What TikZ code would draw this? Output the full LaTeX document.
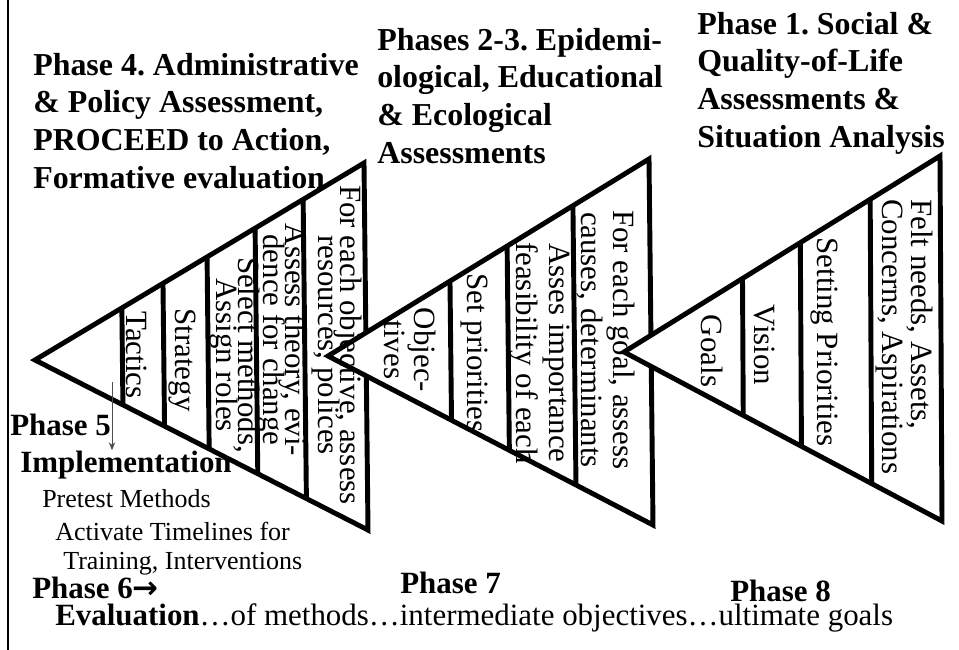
\documentclass[tikz,border=0pt]{standalone}
\usepackage{fontspec}
\setmainfont{Liberation Serif}
\newfontfamily\arrowfont{DejaVu Sans}
\frenchspacing
\usetikzlibrary{arrows.meta,calc}

\begin{document}
\begin{tikzpicture}[
      x=0.025cm, y=-0.025cm,
      tri/.style={draw, fill=white, line width=3.5pt, line join=miter},
      bar/.style={line width=3.5pt},
      head/.style={anchor=north west, align=left, inner sep=0pt, font=\bfseries\fontsize{22.7}{27}\selectfont},
      band/.style={rotate=-90, inner sep=0pt, align=center, font={\fontsize{22}{23}\selectfont\lineskiplimit-30pt}},
      tight/.style={font={\fontsize{22}{15.6}\selectfont\lineskiplimit-30pt}},
      phase/.style={anchor=base west, inner sep=0pt, font=\bfseries\fontsize{22}{26}\selectfont},
      small/.style={anchor=base west, inner sep=0pt, font=\fontsize{18.5}{22}\selectfont},
      >={Stealth[length=2mm,width=1.6mm]}
    ]
    \useasboundingbox (0,0) rectangle (959,650);
    % left frame line
    \draw[line width=1.5pt] (8,0) -- (8,650);

    % Triangle corners
    \coordinate (a1) at (35,360);  \coordinate (t1) at (364,163); \coordinate (b1) at (368,530);
    \coordinate (a2) at (328,356); \coordinate (t2) at (649,159); \coordinate (b2) at (653,525);
    \coordinate (a3) at (624,352); \coordinate (t3) at (940,156); \coordinate (b3) at (942,521);

    % Triangle 1 (Phase 4)
    \draw[tri] (a1) -- (t1) -- (b1) -- cycle;
    \draw[bar] ($(a1)!.264!(t1)$) -- ($(a1)!.264!(b1)$);
    \draw[bar] ($(a1)!.389!(t1)$) -- ($(a1)!.389!(b1)$);
    \draw[bar] ($(a1)!.523!(t1)$) -- ($(a1)!.523!(b1)$);
    \draw[bar] ($(a1)!.669!(t1)$) -- ($(a1)!.669!(b1)$);
    \draw[bar] ($(a1)!.815!(t1)$) -- ($(a1)!.815!(b1)$);

    % Triangle 2 (Phases 2-3)
    \draw[tri] (a2) -- (t2) -- (b2) -- cycle;
    \draw[bar] ($(a2)!.380!(t2)$) -- ($(a2)!.380!(b2)$);
    \draw[bar] ($(a2)!.558!(t2)$) -- ($(a2)!.558!(b2)$);
    \draw[bar] ($(a2)!.763!(t2)$) -- ($(a2)!.763!(b2)$);

    % Triangle 3 (Phase 1)
    \draw[tri] (a3) -- (t3) -- (b3) -- cycle;
    \draw[bar] ($(a3)!.375!(t3)$) -- ($(a3)!.375!(b3)$);
    \draw[bar] ($(a3)!.558!(t3)$) -- ($(a3)!.558!(b3)$);
    \draw[bar] ($(a3)!.779!(t3)$) -- ($(a3)!.779!(b3)$);

    % Band texts, triangle 1
    \node[band] (tactics) at (137,355) {Tactics};
    \node[band] (strategy) at (182,360) {Strategy};
    \node[band, tight] (methods) at (235,355) {Select methods,\\Assign roles};
    \node[band, tight] (theory) at (282,340) {Assess theory, evi-\\dence for change};
    \node[band, tight] (objective) at (337,345) {For each objective, assess\\resources, polices};

    % Band texts, triangle 2
    \node[band, font={\fontsize{22}{21.3}\selectfont}] (objectives) at (410,350) {Objec-\\tives};
    \node[band] (priorities) at (474,353) {Set priorities};
    \node[band] (importance) at (540,353) {Asses importance\\feasibility of each};
    \node[band] (goalcause) at (606,340) {For each goal, assess\\causes, determinants};

    % Band texts, triangle 3
    \node[band] (goals) at (712,351) {Goals};
    \node[band] (vision) at (764,345) {Vision};
    \node[band] (setting) at (824,342) {Setting Priorities};
    \node[band, anchor=west, align=left, font={\fontsize{22}{20.6}\selectfont}] (needs) at (904,199) {Felt needs, Assets,\\Concerns, Aspirations};

    % Headings
    \node[head] (ph4) at (33,52.6) {Phase 4. Administrative\\\& Policy Assessment,\\PROCEED to Action,\\Formative evaluation};
    \node[head] (ph23) at (377,27.6) {Phases 2-3. Epidemi-\\ological, Educational\\\& Ecological\\Assessments};
    \node[head] (ph1) at (697,11.6) {Phase 1. Social \&\\Quality-of-Life\\Assessments \&\\Situation Analysis};

    % Implementation and evaluation
    \node[phase] (ph5) at (10,435) {Phase 5};
    \node[phase] (impl) at (20,472) {Implementation};
    \node[small] (pretest) at (42,507) {Pretest Methods};
    \node[small] (activate) at (55,540) {Activate Timelines for};
    \node[small] (training) at (63,569) {Training, Interventions};
    \coordinate (arrtop) at (112,382);
    \draw[->, line width=0.7pt, gray!60!black] (arrtop) -- (arrtop |- impl.north);

    \node[phase] (ph6) at (32,598) {Phase 6{\arrowfont\bfseries →}};
    \node[phase] (ph7) at (400,593) {Phase 7};
    \node[phase] (ph8) at (730,601) {Phase 8};
    \node[anchor=base west, inner sep=0pt, font=\fontsize{22}{26}\selectfont] (evalline) at (55,625) {\textbf{Evaluation}…of methods…intermediate objectives…ultimate goals};

\end{tikzpicture}
\end{document}
